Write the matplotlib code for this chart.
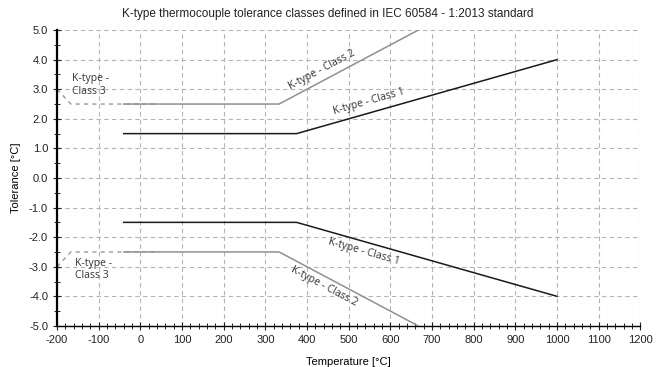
import matplotlib
matplotlib.use("Agg")
import matplotlib.pyplot as plt
from matplotlib.ticker import MultipleLocator, FormatStrFormatter
import numpy as np

plt.rcParams["axes.unicode_minus"] = False

# Data (tolerance envelopes, °C)
class1_t = [-40, 375, 1000]
class1_tol = [1.5, 1.5, 4.0]
class2_t = [-40, 333, 667]
class2_tol = [2.5, 2.5, 5.0]
class3_t = [-200, -167, 40]
class3_tol = [3.0, 2.5, 2.5]

title = "K-type thermocouple tolerance classes defined in IEC 60584 - 1:2013 standard"
xlabel = "Temperature [°C]"
ylabel = "Tolerance [°C]"

fig = plt.figure(figsize=(6.56, 3.67), dpi=100)
ax = fig.add_axes([0.087, 0.112, 0.889, 0.806])

c1 = "#1a1a1a"
c2 = "#909090"
c3 = "#9a9a9a"

for s in (1, -1):
    ax.plot(class3_t, [s * v for v in class3_tol], color=c3, lw=1.0, ls=(0, (3, 3)), zorder=2)
    ax.plot(class2_t, [s * v for v in class2_tol], color=c2, lw=1.1, zorder=3)
    ax.plot(class1_t, [s * v for v in class1_tol], color=c1, lw=1.1, zorder=4)

ax.set_xlim(-200, 1200)
ax.set_ylim(-5, 5)
ax.xaxis.set_major_locator(MultipleLocator(100))
ax.xaxis.set_minor_locator(MultipleLocator(20))
ax.yaxis.set_major_locator(MultipleLocator(1))
ax.yaxis.set_minor_locator(MultipleLocator(0.5))
ax.yaxis.set_major_formatter(FormatStrFormatter("%.1f"))
ax.grid(True, which="major", color="#b5b5b5", ls=(0, (4, 3)), lw=0.8, zorder=0)
for sp in ("top", "right"):
    ax.spines[sp].set_visible(False)
ax.spines["left"].set_linewidth(1.6)
ax.spines["bottom"].set_linewidth(1.0)
ax.tick_params(which="major", direction="inout", length=6, width=0.8, labelsize=8, colors="#222222")
ax.tick_params(which="minor", direction="inout", length=4, width=0.6)
for lab in ax.get_xticklabels() + ax.get_yticklabels():
    lab.set_fontfamily("Liberation Sans")

lf = dict(fontfamily="Open Sans", fontsize=7.5, color="#333333", ha="center", va="center")

def ang(t0, v0, t1, v1):
    p0 = ax.transData.transform((t0, v0))
    p1 = ax.transData.transform((t1, v1))
    return np.degrees(np.arctan2(p1[1] - p0[1], p1[0] - p0[0]))

a1 = ang(375, 1.5, 1000, 4.0)
a2 = ang(333, 2.5, 667, 5.0)
ax.text(437, 3.65, "K-type - Class 2", rotation=a2, **lf)
ax.text(548, 2.57, "K-type - Class 1", rotation=a1, **lf)
ax.text(536, -2.5, "K-type - Class 1", rotation=-a1, **lf)
ax.text(440, -3.68, "K-type - Class 2", rotation=-a2, **lf)
lf3 = dict(lf)
lf3.update(ha="left")
ax.text(-163, 3.14, "K-type -\nClass 3", linespacing=1.2, **lf3)
ax.text(-158, -3.1, "K-type -\nClass 3", linespacing=1.2, **lf3)

ax.set_xlabel(xlabel, fontfamily="Liberation Sans", fontsize=8, labelpad=9)
ax.set_ylabel(ylabel, fontfamily="Liberation Sans", fontsize=8, labelpad=6)
fig.text(0.5, 0.962, title, ha="center", va="center", fontfamily="Liberation Sans", fontsize=8.5, color="#222222")

fig.savefig("out.png", dpi=100, facecolor="white")
